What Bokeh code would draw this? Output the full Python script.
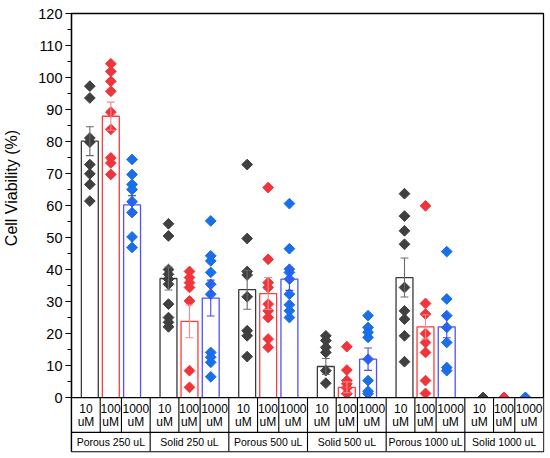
import numpy as np
from bokeh.plotting import figure
from bokeh.models import Range1d, FixedTicker
from bokeh.embed import file_html
from bokeh.resources import INLINE
from bokeh.core.properties import value

# ---------------- data ----------------
conditions = ["Porous 250 uL", "Solid 250 uL", "Porous 500 uL",
              "Solid 500 uL", "Porous 1000 uL", "Solid 1000 uL"]
conc_labels = ["10", "100", "1000"]
conc_unit = "uM"
y_title = "Cell Viability (%)"
y_ticks = list(range(0, 121, 10))
y_minor = list(range(5, 120, 10))

# individual replicates (Cell Viability %), one list per condition
pts_10uM = [
    [97.3, 93.6, 81.1, 79.8, 72.8, 69.9, 66.6, 61.4],
    [54.3, 50.5, 40.0, 38.5, 37.0, 35.4, 29.2, 25.0, 23.5, 22.1],
    [72.8, 49.7, 39.4, 38.3, 31.5, 20.9, 19.3, 12.8],
    [19.3, 17.8, 15.7, 14.1, 8.4, 4.5],
    [63.7, 56.7, 52.1, 47.9, 34.4, 27.1, 24.5, 19.3, 11.2],
    [0.0, 0.0, 0.0],
]
pts_100uM = [
    [104.3, 101.9, 98.8, 95.7, 89.2, 83.8, 74.9, 73.3, 69.7],
    [39.4, 37.5, 35.9, 34.4, 30.2, 8.4, 3.2],
    [65.6, 43.2, 35.9, 34.4, 29.2, 27.1, 25.0, 18.3, 15.7],
    [15.9, 8.6, 5.3, 4.3, 3.0, 1.2],
    [59.9, 29.4, 26.1, 20.0, 17.2, 14.1, 5.3, 1.3],
    [0.0, 0.0, 0.0],
]
pts_1000uM = [
    [74.4, 69.7, 66.6, 65.0, 61.2, 57.8, 50.2, 46.9],
    [55.2, 44.3, 42.7, 39.1, 35.4, 32.3, 14.1, 12.6, 11.0, 6.5],
    [60.6, 46.5, 40.1, 39.1, 37.0, 32.3, 29.0, 27.1, 25.0],
    [25.6, 21.9, 20.4, 18.8, 12.0, 5.3, 2.0, 1.2],
    [45.6, 30.8, 25.6, 21.9, 17.2, 9.4, 8.4],
    [0.0, 0.0, 0.0],
]
# bar means and error (SEM)
mean_10uM = [80.1, 37.2, 33.7, 9.7, 37.5, 0.0]
sem_10uM = [4.5, 3.6, 6.1, 2.5, 6.1, 0.0]
mean_100uM = [87.9, 23.8, 32.5, 3.2, 22.1, 0.0]
sem_100uM = [4.4, 5.1, 5.0, 1.7, 3.8, 0.0]
mean_1000uM = [60.2, 31.1, 37.0, 12.0, 22.1, 0.0]
sem_1000uM = [2.9, 5.6, 3.5, 3.5, 3.4, 0.0]

# ---------------- styling ----------------
FONT = "Liberation Sans"
offsets = [-0.267, 0.0, 0.27]
bar_w = 0.215
cap_half = 0.05
point_colors = ["#404040", "#f0343c", "#1a6fe8"]
bar_colors = ["#3a3a3a", "#ff3b3b", "#5050ff"]
err_colors = ["#6a6a6a", "#f58a8a", "#4848ff"]
y_bottom = -16.85
row_split = -10.9
cell_fracs = [0.365, 0.635]
text_fracs = [0.184, 0.497, 0.818]

p = figure(width=550, height=458, output_backend="svg", toolbar_location=None,
           x_range=Range1d(0, 6), y_range=Range1d(y_bottom, 120),
           min_border_left=64, min_border_right=7, min_border_top=13, min_border_bottom=7)
p.xaxis.visible = False
p.xgrid.visible = False
p.ygrid.visible = False
p.outline_line_color = "black"
p.outline_line_width = 1.3

ax = p.yaxis[0]
ax.ticker = FixedTicker(ticks=y_ticks, minor_ticks=y_minor)
ax.axis_line_color = "black"
ax.axis_line_width = 1.3
ax.major_tick_in = 0
ax.major_tick_out = 6
ax.minor_tick_in = 0
ax.minor_tick_out = 4
ax.major_tick_line_width = 1.2
ax.minor_tick_line_width = 1.2
ax.major_label_standoff = 3
ax.major_label_text_font = FONT
ax.major_label_text_font_size = "14.5px"
ax.major_label_text_color = "black"
# leading no-break spaces lift the title to sit over the 0-120 span, as in the reference
ax.axis_label = "\u00a0" * 20 + y_title
ax.axis_label_text_font = FONT
ax.axis_label_text_font_size = "16px"
ax.axis_label_text_font_style = "normal"
ax.axis_label_text_color = "black"
ax.axis_label_standoff = 15

series = [(pts_10uM, mean_10uM, sem_10uM),
          (pts_100uM, mean_100uM, sem_100uM),
          (pts_1000uM, mean_1000uM, sem_1000uM)]

# points
for k, (pts, means, sems) in enumerate(series):
    xs, ys = [], []
    for g, vals in enumerate(pts):
        xs += [g + 0.5 + offsets[k]] * len(vals)
        ys += vals
    p.scatter(xs, ys, marker="square", angle=np.pi / 4, size=7.6,
              fill_color=point_colors[k], line_color=point_colors[k])

# bars and error bars
for k, (pts, means, sems) in enumerate(series):
    cx = [g + 0.5 + offsets[k] for g in range(len(means))]
    p.vbar(x=cx, top=means, bottom=0, width=bar_w, fill_color=None,
           line_color=bar_colors[k], line_width=1.3)
    nz = [i for i in range(len(means)) if sems[i] > 0]
    lo = [means[i] - sems[i] for i in nz]
    hi = [means[i] + sems[i] for i in nz]
    xx = [cx[i] for i in nz]
    p.segment(x0=xx, y0=lo, x1=xx, y1=hi, line_color=err_colors[k], line_width=1.1)
    p.segment(x0=[x - cap_half for x in xx], y0=hi, x1=[x + cap_half for x in xx], y1=hi,
              line_color=err_colors[k], line_width=1.1)
    p.segment(x0=[x - cap_half for x in xx], y0=lo, x1=[x + cap_half for x in xx], y1=lo,
              line_color=err_colors[k], line_width=1.1)

# table area under the plot
n = len(conditions)
p.quad(left=[0], right=[n], bottom=[y_bottom], top=[0], fill_color="white", line_color=None)
p.segment(x0=[0, 0], y0=[0, row_split], x1=[n, n], y1=[0, row_split],
          line_color="black", line_width=1.3)
p.segment(x0=list(range(1, n)), y0=[y_bottom] * (n - 1), x1=list(range(1, n)), y1=[0] * (n - 1),
          line_color="black", line_width=1.1)
cell_x = [g + f for g in range(n) for f in cell_fracs]
p.segment(x0=cell_x, y0=[row_split] * len(cell_x), x1=cell_x, y1=[0] * len(cell_x),
          line_color="black", line_width=1.1)

tx, t_num = [], []
for g in range(n):
    for j, lab in enumerate(conc_labels):
        tx.append(g + text_fracs[j])
        t_num.append(lab)
p.text(x=tx, y=[-3.4] * len(tx), text=t_num, text_align="center", text_baseline="middle",
       text_font=value(FONT), text_font_size="12px", text_color="black")
p.text(x=tx, y=[-7.7] * len(tx), text=[conc_unit] * len(tx), text_align="center",
       text_baseline="middle", text_font=value(FONT), text_font_size="12px", text_color="black")
p.text(x=[g + 0.5 for g in range(n)], y=[-14.0] * n, text=conditions, text_align="center",
       text_baseline="middle", text_font=value(FONT), text_font_size="10.5px", text_color="black")

open("out.html", "w").write(file_html(p, INLINE))
